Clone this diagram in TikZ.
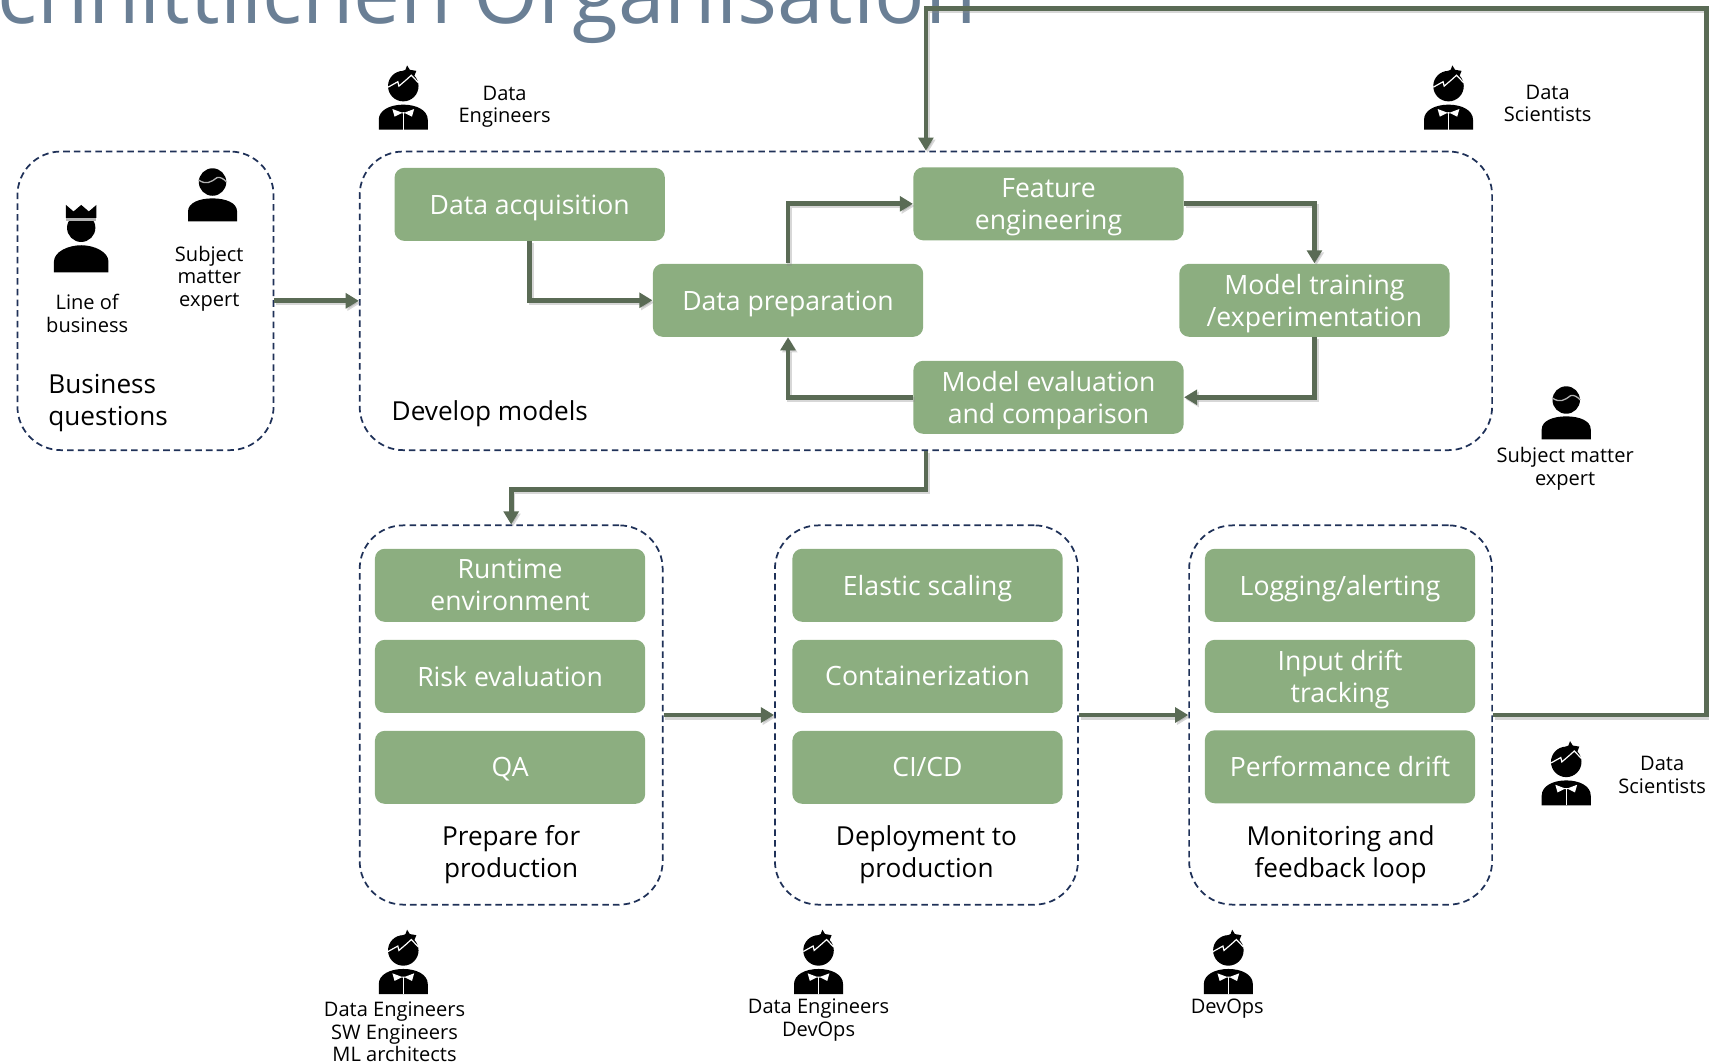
\documentclass[tikz,border=0pt]{standalone}
\usepackage{fontspec}
\setmainfont{Open Sans}
\usetikzlibrary{arrows.meta}
\definecolor{boxgreen}{HTML}{8CAE80}
\definecolor{dashnavy}{HTML}{1F3158}
\definecolor{connline}{HTML}{5A6B55}
\definecolor{titleblue}{HTML}{6A7F95}
\newcommand\nodp[1]{\raisebox{0pt}[\height][0pt]{#1}}
\tikzset{
 x=0.5pt,y=-0.5pt,
 greenbox/.style={fill=boxgreen,rounded corners=4.5pt,minimum width=124pt,minimum height=33.5pt,inner sep=0pt,align=center,text=white,font=\fontsize{12.2}{14.7}\selectfont},
 dashbox/.style={draw=dashnavy,line width=.8pt,dash pattern=on 3pt off 1.9pt,rounded corners=20pt,inner sep=0pt},
 conn/.style={draw=connline,line width=2.2pt,-{Triangle[length=6pt,width=6.8pt]},
   preaction={draw=black!45,opacity=.35,line width=2.2pt,transform canvas={xshift=.8pt,yshift=-1pt}}},
 bigtext/.style={inner sep=0pt,align=center,font=\fontsize{12}{14.6}\selectfont},
 smalltext/.style={inner sep=0pt,align=center,font=\fontsize{9.2}{10.3}\selectfont},
 dataperson/.pic={
  \fill[black] (0,-21) circle (7pt);
  \fill[black] (-7,-32) -- (2,-36) -- (3.5,-40) -- (6,-36) -- (12,-35) -- (10,-30) -- cycle;
  \draw[white,line width=.55pt] (-14,-20) -- (-5,-25) -- (-4,-21) -- (3,-27) -- (7.4,-31) -- (14,-24);
  \fill[black] (-22.5,19) -- (-22.5,10) .. controls (-22.5,1) and (-12,-4) .. (0,-4) .. controls (12,-4) and (22.5,1) .. (22.5,10) -- (22.5,19) -- cycle;
  \fill[white] (-10,0) -- (-2,3) -- (2,3) -- (10,0) -- (8,7) -- (2,4) -- (-2,4) -- (-8,7) -- cycle;
  \draw[white,line width=.5pt] (0,3) -- (0,19);
 },
 expertperson/.pic={
  \fill[black] (0,-11) circle (6.3pt);
  \draw[white!70!black,line width=.6pt] (-13,-13) .. controls (-6,-8) and (-1,-11) .. (4,-15) .. controls (7,-16) and (10,-14) .. (13,-11);
  \fill[black] (-22.5,25) -- (-22.5,16) .. controls (-22.5,8) and (-12,4) .. (0,4) .. controls (12,4) and (22.5,8) .. (22.5,16) -- (22.5,25) -- cycle;
 },
 crownperson/.pic={
  \fill[black] (0,-16) circle (6.5pt);
  \fill[white!70!black] (-14,-25) rectangle (14,-22.5);
  \fill[black] (-14,-25) -- (-14,-37) -- (-7,-31) -- (0,-37) -- (7,-31) -- (14,-37) -- (14,-25) -- cycle;
  \fill[black] (-25,25) -- (-25,15) .. controls (-25,6) and (-12,0) .. (0,0) .. controls (12,0) and (25,6) .. (25,15) -- (25,25) -- cycle;
 }
}
\begin{document}
\begin{tikzpicture}
\useasboundingbox (0,0) rectangle (1568,976);
\clip (0,0) rectangle (1568,976);

\node[anchor=base west,inner sep=0pt,text=titleblue,font=\fontsize{38.4}{42}\selectfont] (title) at (-3,21.5) {chnittlichen Organisation};

% dashed containers
\node[dashbox,minimum width=117.5pt,minimum height=137pt] (biz) at (133.5,276) {};
\node[dashbox,minimum width=519.5pt,minimum height=137pt] (dev) at (849.5,276) {};
\node[dashbox,minimum width=139pt,minimum height=174pt] (prod) at (469,656) {};
\node[dashbox,minimum width=139pt,minimum height=174pt] (depl) at (850,656) {};
\node[dashbox,minimum width=139pt,minimum height=174pt] (moni) at (1230,656) {};

% green boxes
\node[greenbox] (acq) at (486,187.5) {\nodp{Data acquisition}};
\node[greenbox] (prep) at (723,275.5) {\nodp{Data preparation}};
\node[greenbox] (feat) at (962,187) {Feature\\\nodp{engineering}};
\node[greenbox] (train) at (1206,275.5) {Model training\\\nodp{/experimentation}};
\node[greenbox] (eval) at (962,364.5) {Model evaluation\\\nodp{and comparison}};
\node[greenbox] (run) at (468,537) {Runtime\\environment};
\node[greenbox] (risk) at (468,620.5) {Risk evaluation};
\node[greenbox] (qa) at (468,704) {\nodp{QA}};
\node[greenbox] (elastic) at (851,537) {\nodp{Elastic scaling}};
\node[greenbox] (cont) at (851,620.5) {Containerization};
\node[greenbox] (cicd) at (851,704) {CI/CD};
\node[greenbox] (log) at (1229.5,537) {\nodp{Logging/alerting}};
\node[greenbox] (drift) at (1229.5,620.5) {Input drift\\\nodp{tracking}};
\node[greenbox] (perf) at (1229.5,703.5) {Performance drift};

% labels
\node[bigtext,align=left,anchor=west] (bq) at (44,370) {Business\\questions};
\node[bigtext,anchor=west] (dm) at (359,380) {Develop models};
\node[bigtext] (pp) at (469,784) {Prepare for\\production};
\node[bigtext] (dp) at (850,784) {Deployment to\\production};
\node[bigtext] (mf) at (1230,784) {Monitoring and\\feedback loop};

\node[smalltext] (lob) at (80,287.5) {Line of\\business};
\node[smalltext] (sme) at (192,255.5) {Subject\\matter\\expert};
\node[smalltext] (de1) at (463,98) {Data\\Engineers};
\node[smalltext] (ds1) at (1420,95) {Data\\Scientists};
\node[smalltext] (sme2) at (1436,430) {Subject matter\\expert};
\node[smalltext] (ds2) at (1525,711) {Data\\Scientists};
\node[smalltext] (dsm) at (362,947) {Data Engineers\\SW Engineers\\ML architects};
\node[smalltext] (dd) at (751,936) {Data Engineers\\DevOps};
\node[smalltext] (devops) at (1126,925) {DevOps};

% people
\pic at (370,100) {dataperson};
\pic at (1329,100) {dataperson};
\pic at (1437,720) {dataperson};
\pic at (370,893) {dataperson};
\pic at (751,893) {dataperson};
\pic at (1127,893) {dataperson};
\pic at (195,178) {expertperson};
\pic at (1437,378) {expertperson};
\pic at (74.5,225) {crownperson};

% connectors
\coordinate (fbA) at (1566,656);
\coordinate (fbB) at (1566,8);
\coordinate (fbC) at (849.5,8);
\draw[conn] (biz.east) -- (dev.west);
\draw[conn] (acq.south) |- (prep.west);
\draw[conn] (prep.north) |- (feat.west);
\draw[conn] (feat.east) -| (train.north);
\draw[conn] (train.south) |- (eval.east);
\draw[conn] (eval.west) -| (prep.south);
\draw[conn] (dev.south) -- ++(0,35) -| (prod.north);
\draw[conn] (prod.east) -- (depl.west);
\draw[conn] (depl.east) -- (moni.west);
\draw[conn] (moni.east) -- (fbA) -- (fbB) -- (fbC) -- (dev.north);
\end{tikzpicture}
\end{document}
